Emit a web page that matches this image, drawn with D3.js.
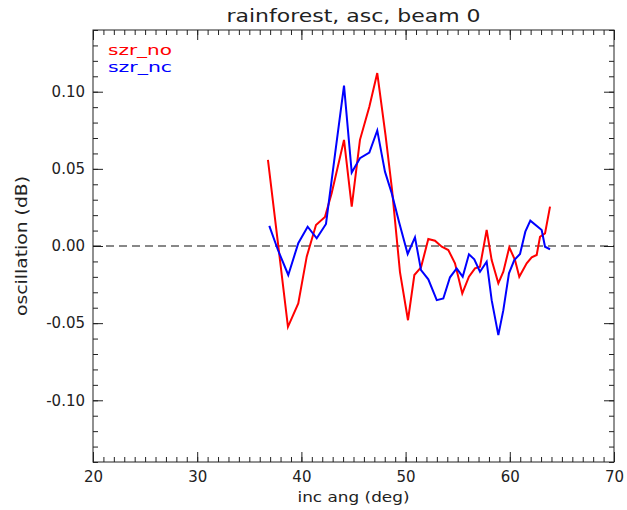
<!DOCTYPE html>
<html>
<head>
<meta charset="utf-8">
<script src="https://cdn.jsdelivr.net/npm/d3@7"></script>
<style>
  html, body { margin: 0; padding: 0; background: #fff; }
  svg { display: block; }
  text { font-family: "DejaVu Sans", sans-serif; fill: #222; }
</style>
</head>
<body>
<svg id="chart" width="627" height="510"></svg>
<script>
// ---- data ----
const titleText = "rainforest, asc, beam 0";
const xLabel = "inc ang (deg)";
const yLabel = "oscillation (dB)";
const seriesNames = ["szr_no", "szr_nc"];
const seriesColors = ["#ff0000", "#0000ff"];

const xTicks = [20, 30, 40, 50, 60, 70];
const yTicks = [-0.10, -0.05, 0.00, 0.05, 0.10];

const szrNoAng = [36.79, 37.75, 38.71, 39.70, 40.51, 41.40, 42.26, 42.91, 44.09, 44.83, 45.62, 46.52, 47.28,
  48.07, 48.70, 49.46, 50.23, 50.84, 51.48, 52.18, 52.82, 53.47, 54.10, 54.74, 55.44, 56.08, 56.66, 57.14,
  57.78, 58.26, 58.90, 59.38, 59.95, 60.50, 60.91, 61.62, 62.10, 62.58, 62.90, 63.38, 63.86];
const szrNoVal = [0.0558, 0.0019, -0.0524, -0.0372, -0.0069, 0.0136, 0.0188, 0.0344, 0.0688, 0.0255, 0.0688, 0.0903, 0.1121,
  0.0721, 0.0364, -0.0169, -0.0481, -0.0188, -0.0138, 0.0045, 0.0034, -0.0005, -0.0026, -0.0112, -0.0307, -0.0199, -0.0145, -0.0134,
  0.0104, -0.0091, -0.0242, -0.0167, -0.0008, -0.0091, -0.0199, -0.0112, -0.0073, -0.0058, 0.0060, 0.0082, 0.0255];

const szrNcAng = [36.92, 37.75, 38.74, 39.70, 40.60, 41.47, 42.36, 43.22, 44.09, 44.83, 45.62, 46.52, 47.28,
  48.02, 48.67, 49.37, 50.20, 50.90, 51.48, 52.18, 52.99, 53.62, 54.26, 54.90, 55.48, 56.08, 56.59, 57.14,
  57.78, 58.26, 58.90, 59.38, 59.92, 60.43, 60.98, 61.49, 61.97, 63.06, 63.38, 63.86];
const szrNcVal = [0.0130, -0.0026, -0.0188, 0.0018, 0.0125, 0.0050, 0.0143, 0.0591, 0.1039, 0.0476, 0.0569, 0.0606, 0.0749,
  0.0482, 0.0342, 0.0156, -0.0052, 0.0056, -0.0156, -0.0216, -0.0351, -0.0340, -0.0203, -0.0145, -0.0199, -0.0054, -0.0086, -0.0167,
  -0.0102, -0.0351, -0.0578, -0.0416, -0.0177, -0.0091, -0.0052, 0.0093, 0.0164, 0.0104, -0.0005, -0.0021];

// ---- layout ----
const svg = d3.select("#chart");
const L = 93, R = 614, T = 30, B = 462;

const x = d3.scaleLinear().domain([20, 70]).range([L, R]);
const y = d3.scaleLinear().domain([-0.14, 0.14]).range([B, T]);

const minorX = d3.range(20, 71, 1);
const minorY = d3.range(-14, 15, 1).map(d => d / 100);

function styleAxis(g) {
  g.select(".domain").remove();
  g.selectAll("line").attr("stroke", "#222").attr("stroke-width", 1);
}

// minor ticks
svg.append("g").attr("transform", `translate(0,${B})`)
  .call(d3.axisBottom(x).tickValues(minorX).tickSizeInner(-5).tickSizeOuter(0).tickFormat(""))
  .call(styleAxis);
svg.append("g").attr("transform", `translate(0,${T})`)
  .call(d3.axisTop(x).tickValues(minorX).tickSizeInner(-5).tickSizeOuter(0).tickFormat(""))
  .call(styleAxis);
svg.append("g").attr("transform", `translate(${L},0)`)
  .call(d3.axisLeft(y).tickValues(minorY).tickSizeInner(-5).tickSizeOuter(0).tickFormat(""))
  .call(styleAxis);
svg.append("g").attr("transform", `translate(${R},0)`)
  .call(d3.axisRight(y).tickValues(minorY).tickSizeInner(-5).tickSizeOuter(0).tickFormat(""))
  .call(styleAxis);

// major ticks with labels
svg.append("g").attr("transform", `translate(0,${B})`)
  .call(d3.axisBottom(x).tickValues(xTicks).tickSizeInner(-10).tickSizeOuter(0).tickPadding(9).tickFormat(d3.format("d")))
  .call(styleAxis);
svg.append("g").attr("transform", `translate(0,${T})`)
  .call(d3.axisTop(x).tickValues(xTicks).tickSizeInner(-10).tickSizeOuter(0).tickFormat(""))
  .call(styleAxis);
svg.append("g").attr("transform", `translate(${L},0)`)
  .call(d3.axisLeft(y).tickValues(yTicks).tickSizeInner(-10).tickSizeOuter(0).tickPadding(8).tickFormat(d3.format(".2f")))
  .call(styleAxis);
svg.append("g").attr("transform", `translate(${R},0)`)
  .call(d3.axisRight(y).tickValues(yTicks).tickSizeInner(-10).tickSizeOuter(0).tickFormat(""))
  .call(styleAxis);

svg.selectAll(".tick text")
  .attr("font-family", "DejaVu Sans, sans-serif")
  .attr("font-size", 15)
  .attr("fill", "#222")
  .text(function() { return d3.select(this).text().replace("\u2212", "-"); });

// frame
svg.append("rect")
  .attr("x", L).attr("y", T).attr("width", R - L).attr("height", B - T)
  .attr("fill", "none").attr("stroke", "#222").attr("stroke-width", 1);

// zero dashed line
svg.append("line")
  .attr("x1", L).attr("x2", R).attr("y1", y(0)).attr("y2", y(0))
  .attr("stroke", "#111").attr("stroke-width", 1).attr("stroke-dasharray", "8,5");

// series lines
const line = d3.line().x(d => x(d[0])).y(d => y(d[1]));
const seriesData = [
  d3.zip(szrNoAng, szrNoVal),
  d3.zip(szrNcAng, szrNcVal)
];
seriesData.forEach((pts, i) => {
  svg.append("path")
    .datum(pts)
    .attr("d", line)
    .attr("fill", "none")
    .attr("stroke", seriesColors[i])
    .attr("stroke-width", 2)
    .attr("stroke-linejoin", "miter");
});

// legend
seriesNames.forEach((name, i) => {
  svg.append("text")
    .attr("x", 108).attr("y", 55 + i * 17)
    .attr("font-size", 14)
    .attr("textLength", 64).attr("lengthAdjust", "spacingAndGlyphs")
    .style("fill", seriesColors[i])
    .text(name);
});

// title
svg.append("text")
  .attr("x", (L + R) / 2).attr("y", 22)
  .attr("text-anchor", "middle")
  .attr("font-size", 17)
  .attr("textLength", 254).attr("lengthAdjust", "spacingAndGlyphs")
  .text(titleText);

// axis titles
svg.append("text")
  .attr("x", (L + R) / 2).attr("y", 502)
  .attr("text-anchor", "middle")
  .attr("font-size", 14)
  .attr("textLength", 112).attr("lengthAdjust", "spacingAndGlyphs")
  .text(xLabel);

svg.append("text")
  .attr("transform", `translate(27,${(T + B) / 2}) rotate(-90)`)
  .attr("text-anchor", "middle")
  .attr("font-size", 15)
  .attr("textLength", 140).attr("lengthAdjust", "spacingAndGlyphs")
  .text(yLabel);
</script>
</body>
</html>
